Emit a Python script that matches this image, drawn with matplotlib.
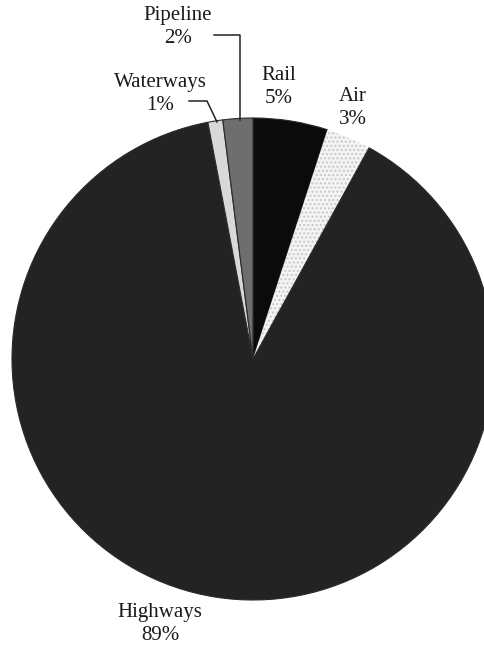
import matplotlib.pyplot as plt

# mode share of freight, clockwise from 12 o'clock
modes = ["Rail", "Air", "Highways", "Waterways", "Pipeline"]
shares = [5, 3, 89, 1, 2]
fills = ["#0b0b0b", "#f4f4f4", "#232323", "#d9d9d9", "#6e6e6e"]

W, H = 484, 647
fig = plt.figure(figsize=(W / 100, H / 100), dpi=100)
ax = fig.add_axes([0, 0, 1, 1])

wedges, _ = ax.pie(shares, colors=fills, startangle=90, counterclock=False,
                   center=(253, H - 359), radius=241,
                   wedgeprops=dict(edgecolor="#2a2a2a", linewidth=0.8))
# speckled white slice
wedges[1].set_hatch("....")
wedges[1].set_edgecolor("#c8c8c8")
wedges[1].set_linewidth(0.0)

ax.set_xlim(0, W)
ax.set_ylim(0, H)
ax.set_aspect("equal")
ax.axis("off")

font = dict(family=["Liberation Serif", "DejaVu Serif"], fontsize=15,
            color="#1a1a1a", ha="center", va="center", linespacing=1.3)

# label anchors in image pixels (x, y from top)
label_pos = {"Rail": (279, 87), "Air": (353, 108), "Highways": (160, 624),
             "Waterways": (160, 94), "Pipeline": (178, 27)}
for name, val in zip(modes, shares):
    x, y = label_pos[name]
    ax.text(x, H - y, f"{name}\n{val}%", **font)

# leader lines for the thin slices
ax.plot([214, 240, 240], [H - 35, H - 35, H - 120], color="#222222", lw=1.1)
ax.plot([189, 207, 217], [H - 101, H - 101, H - 122], color="#222222", lw=1.1)

fig.savefig("out.png", dpi=100)
